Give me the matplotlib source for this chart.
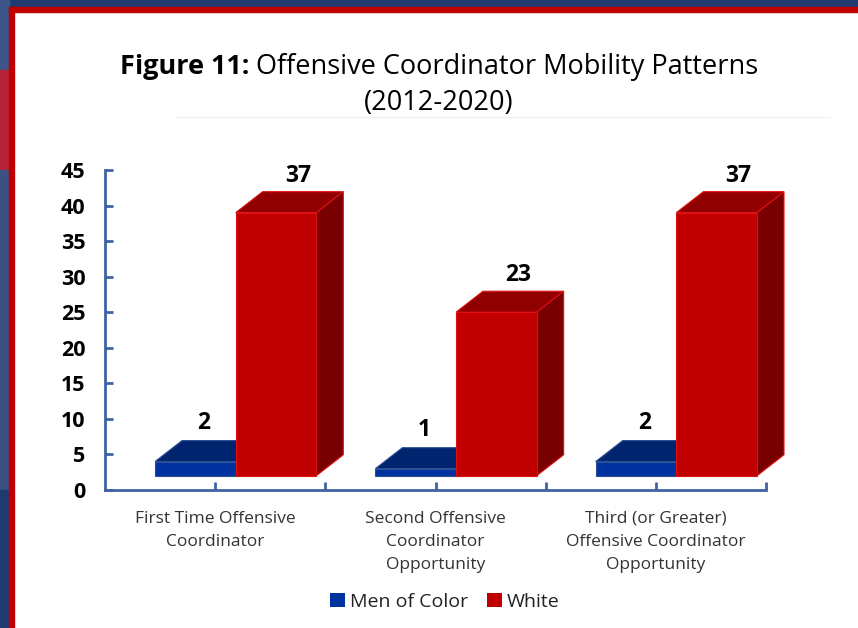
import matplotlib.pyplot as plt
from matplotlib.patches import Polygon, Rectangle
from matplotlib.lines import Line2D

plt.rcParams['font.family'] = ['Open Sans', 'DejaVu Sans']

categories = ["First Time Offensive\nCoordinator",
              "Second Offensive\nCoordinator\nOpportunity",
              "Third (or Greater)\nOffensive Coordinator\nOpportunity"]
men_of_color = [2, 1, 2]
white = [37, 23, 37]
series_names = ["Men of Color", "White"]
y_ticks = list(range(0, 46, 5))

# face colours: front, top, side, edge
BLUE = ("#0033a0", "#00246e", "#001d58", "#2c4f96")
RED = ("#c00000", "#900000", "#780000", "#e01010")
AXIS = "#3f63a3"

fig = plt.figure(figsize=(8.58, 6.28), dpi=100)

# slide frame behind the chart
bg = fig.add_axes([0, 0, 1, 1])
bg.set_xlim(0, 858)
bg.set_ylim(628, 0)
bg.axis("off")
bg.add_patch(Rectangle((0, 0), 858, 8, color="#1f3a6e"))
bg.add_patch(Rectangle((0, 0), 9, 70, color="#3c5488"))
bg.add_patch(Rectangle((0, 70), 9, 100, color="#b82238"))
bg.add_patch(Rectangle((0, 170), 9, 320, color="#3c5082"))
bg.add_patch(Rectangle((0, 490), 9, 138, color="#1f3a6e"))
bg.add_patch(Rectangle((9, 7), 849, 5, color="#c00000"))
bg.add_patch(Rectangle((9, 7), 5, 621, color="#c00000"))
bg.add_line(Line2D([175, 830], [117, 117], color="#f2f2f2", lw=1))

ax = fig.add_axes([105 / 858, 1 - 490 / 628, 661 / 858, 320 / 628])
ax.set_xlim(0, 3)
ax.set_ylim(0, 45)

base = 2.0
dx, dy = 0.1226, 2.95
offset, width = 0.227, 0.366


def bar3d(x0, h, cols):
    front, top, side, edge = cols
    y0, y1 = base, base + h
    x1 = x0 + width
    kw = dict(closed=True, ec=edge, lw=0.8, zorder=3, clip_on=False)
    ax.add_patch(Polygon([(x0, y1), (x0 + dx, y1 + dy), (x1 + dx, y1 + dy), (x1, y1)],
                         fc=top, **kw))
    ax.add_patch(Polygon([(x1, y0), (x1 + dx, y0 + dy), (x1 + dx, y1 + dy), (x1, y1)],
                         fc=side, **kw))
    ax.add_patch(Polygon([(x0, y0), (x1, y0), (x1, y1), (x0, y1)],
                         fc=front, **kw))


for i, (b, r) in enumerate(zip(men_of_color, white)):
    xb = i + offset
    xr = xb + width
    bar3d(xb, b, BLUE)
    bar3d(xr, r, RED)
    ax.annotate(str(b), (xb + width / 2 + 0.04, base + b + dy), xytext=(0, 4),
                textcoords="offset points", ha="center", va="bottom",
                fontsize=16.5, fontweight="bold", color="black", zorder=5)
    ax.annotate(str(r), (xr + width / 2 + 0.1, base + r + dy), xytext=(0, 3),
                textcoords="offset points", ha="center", va="bottom",
                fontsize=16.5, fontweight="bold", color="black", zorder=5)

for s in ["top", "right"]:
    ax.spines[s].set_visible(False)
for s in ["left", "bottom"]:
    ax.spines[s].set_color(AXIS)
    ax.spines[s].set_linewidth(2)

ax.set_yticks(y_ticks)
ax.tick_params(axis="y", direction="in", length=6, width=2, color=AXIS, pad=14,
               labelsize=15.5)
for lab in ax.get_yticklabels():
    lab.set_fontweight("bold")

ax.set_xticks([0.5, 1.5, 2.5])
ax.set_xticklabels(categories, fontsize=12.5, color="#333333", linespacing=1.6)
ax.set_xticks([1, 2, 3], minor=True)
ax.tick_params(axis="x", which="both", direction="in", length=6, width=2,
               color=AXIS, pad=15)

# legend
handles = [Rectangle((0, 0), 1, 1, fc=BLUE[0]), Rectangle((0, 0), 1, 1, fc=RED[0])]
fig.legend(handles, series_names, loc="center", bbox_to_anchor=(445 / 858, 1 - 602 / 628),
           ncol=2, frameon=False, fontsize=14, handlelength=0.75, handleheight=0.75,
           handletextpad=0.25, columnspacing=1.0, labelcolor="#222222")

# title: bold prefix + normal remainder, centred together
r = fig.canvas.get_renderer()
t1 = fig.text(0, 0, "Figure 11: ", fontsize=19.5, fontweight="bold")
t2 = fig.text(0, 0, "Offensive Coordinator Mobility Patterns", fontsize=19.5)
w1 = t1.get_window_extent(r).width
w2 = t2.get_window_extent(r).width
x0 = 439 - (w1 + w2) / 2
ty = 1 - 67 / 628
t1.set_position((x0 / 858, ty))
t1.set_va("center")
t2.set_position(((x0 + w1) / 858, ty))
t2.set_va("center")
fig.text(439 / 858, 1 - 103 / 628, "(2012-2020)", fontsize=19.5, ha="center", va="center")

fig.savefig("out.png", dpi=100)
